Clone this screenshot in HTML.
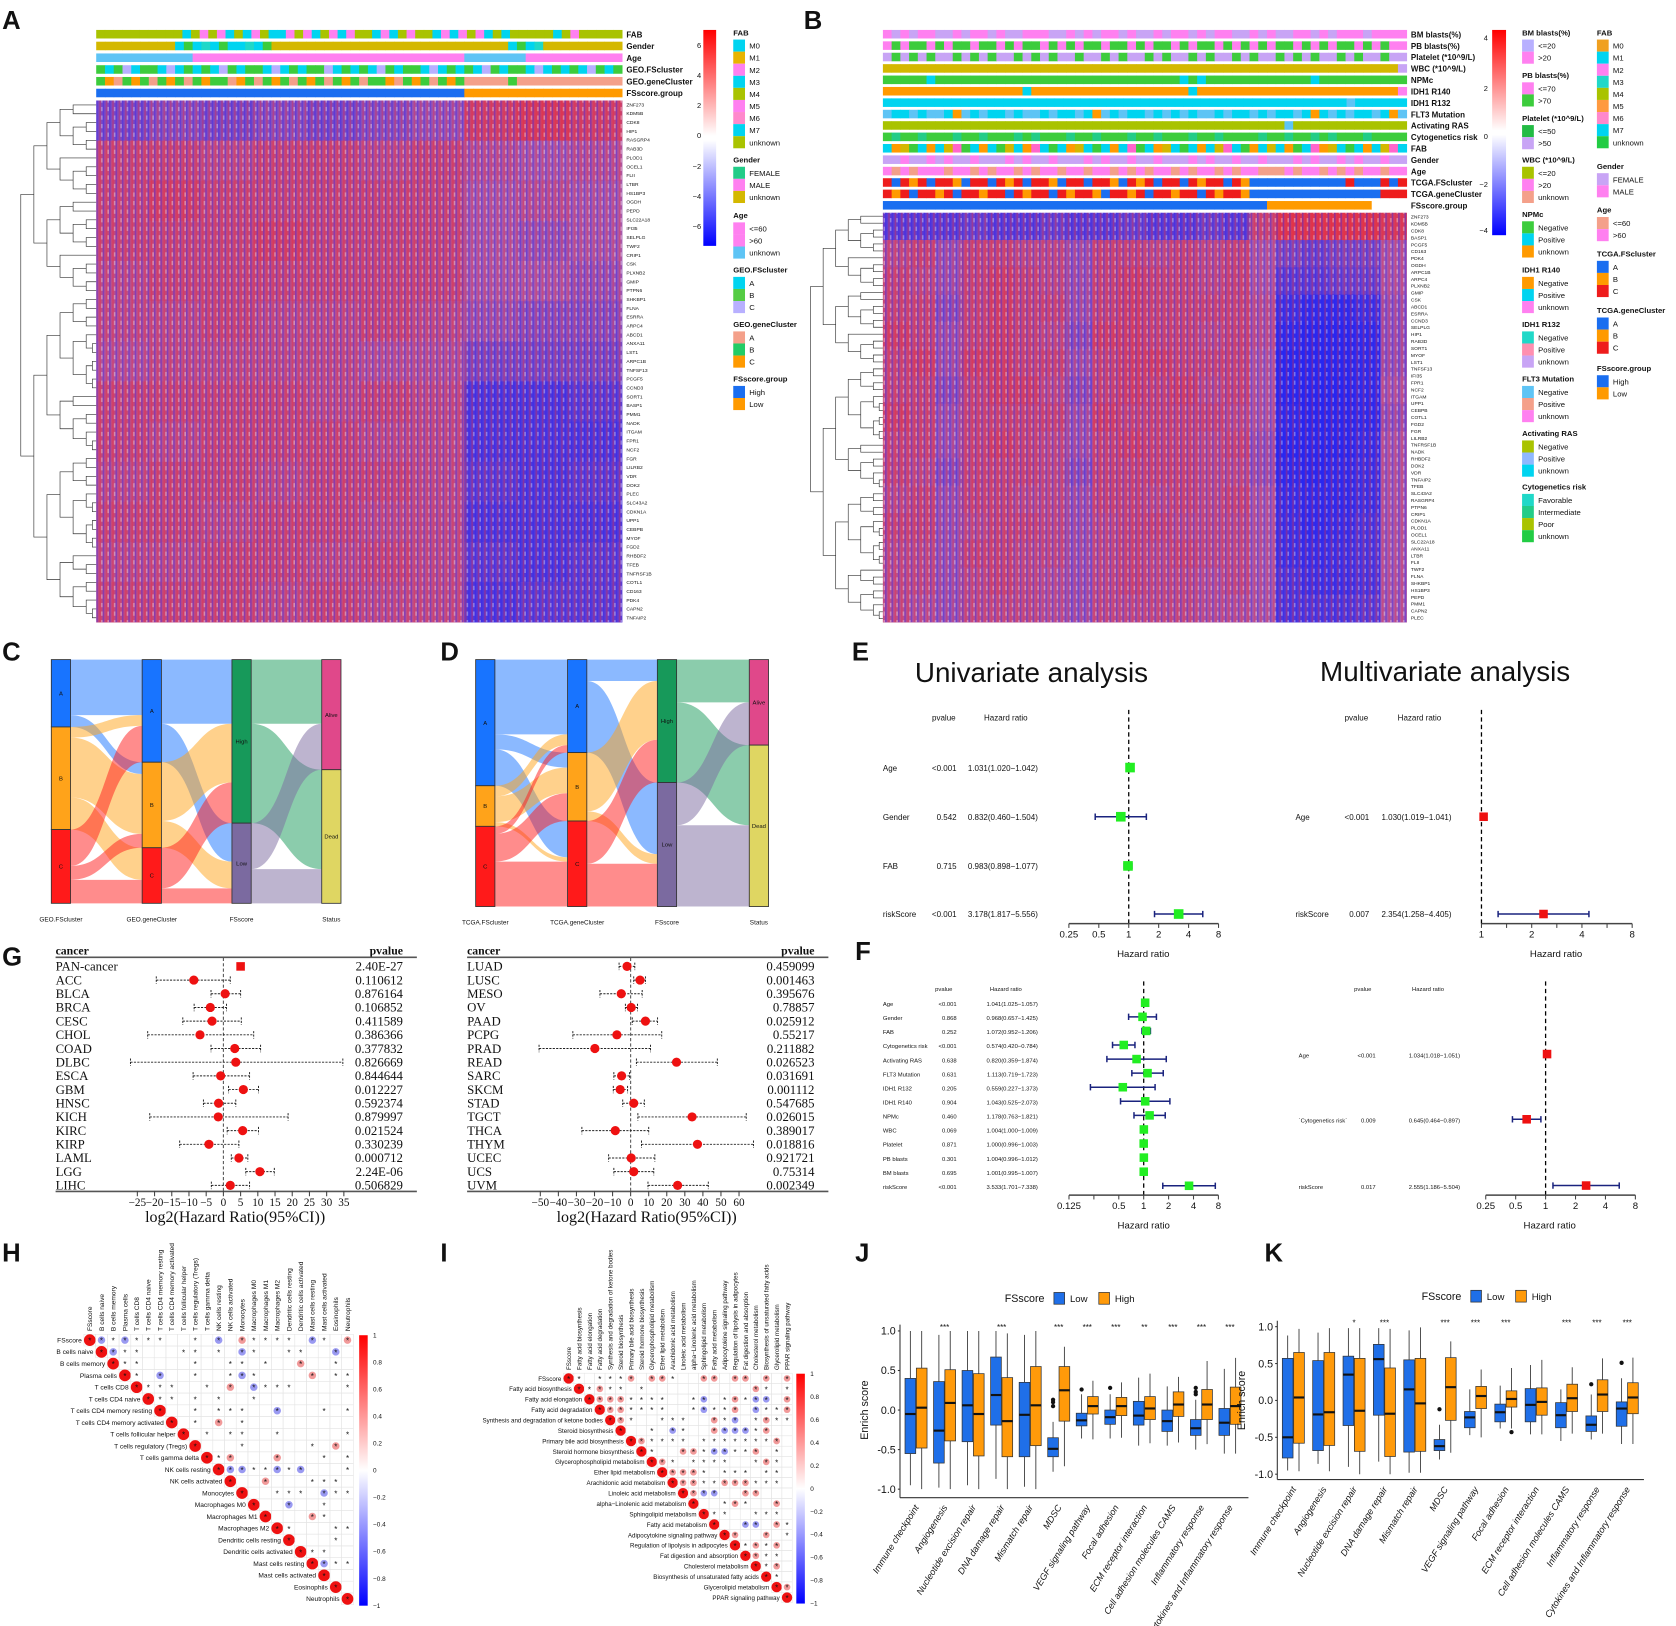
<!DOCTYPE html>
<html><head><meta charset="utf-8">
<style>
html,body{margin:0;padding:0;background:#fff;}
svg{display:block;}
text{font-family:"Liberation Sans",sans-serif;fill:#111;}
.serif{font-family:"Liberation Serif",serif;}
</style></head>
<body>
<svg id="fig" width="1676" height="1626" viewBox="0 0 1568 1521" preserveAspectRatio="none">
<defs>
<pattern id="texA" width="6" height="8" patternUnits="userSpaceOnUse">
<rect x="0" y="0" width="1.5" height="8" fill="#2020ff" fill-opacity="0.35"/>
<rect x="3" y="0" width="1.5" height="8" fill="#ff2020" fill-opacity="0.3"/>
<rect x="4.5" y="4" width="1.5" height="4" fill="#ffffff" fill-opacity="0.35"/>
</pattern>
</defs>
</svg>
<script>
// ================= DATA =================
const hmA = [
 [-0.3,-0.2,-0.3,-0.2,-0.3,-0.2,-0.1,0.4,0.5,0.4],
 [0.3,0.3,0.2,0.3,0.3,0.2,0.3,0.1,0.0,0.1],
 [0.3,0.4,0.3,0.3,0.3,0.3,0.3,0.0,0.1,0.0],
 [0.3,0.3,0.3,0.4,0.3,0.3,0.3,0.0,-0.1,0.0],
 [0.2,0.3,0.3,0.3,0.3,0.3,0.3,0.0,0.0,-0.1],
 [0.2,0.2,0.3,0.2,0.2,0.3,0.2,-0.1,-0.2,-0.2],
 [0.1,0.2,0.2,0.2,0.2,0.1,0.1,-0.3,-0.3,-0.3],
 [0.3,0.3,0.3,0.3,0.2,0.3,0.2,-0.6,-0.6,-0.5],
 [0.3,0.2,0.3,0.3,0.3,0.2,0.2,-0.6,-0.6,-0.6],
 [0.2,0.3,0.3,0.2,0.3,0.3,0.2,-0.5,-0.6,-0.5],
 [0.3,0.3,0.2,0.3,0.3,0.2,0.2,-0.6,-0.6,-0.6],
 [0.2,0.2,0.3,0.3,0.2,0.3,0.2,-0.5,-0.6,-0.5],
 [0.3,0.3,0.3,0.2,0.3,0.2,0.2,-0.6,-0.5,-0.5]
];
const hmB = [
 [-0.5,-0.5,-0.5,-0.4,-0.5,-0.5,-0.4,-0.5,-0.5,-0.4,-0.5,-0.5,-0.4,-0.5,0.3,0.6,0.6,0.6,0.6,0.5],
 [0.2,0.3,-0.1,0.3,0.3,0.2,0.2,-0.1,0.3,0.3,0.2,0.3,0.2,0.3,0.0,-0.3,-0.4,-0.3,-0.3,0.0],
 [0.3,0.2,-0.1,0.3,0.4,0.3,0.2,-0.1,0.3,0.4,0.3,0.3,0.2,0.3,0.0,-0.5,-0.5,-0.4,-0.4,0.0],
 [0.3,0.3,-0.2,0.3,0.4,0.3,0.3,-0.1,0.3,0.4,0.3,0.3,0.3,0.3,0.1,-0.7,-0.8,-0.8,-0.7,-0.1],
 [0.4,0.3,-0.1,0.3,0.4,0.3,0.2,-0.2,0.4,0.4,0.3,0.3,0.2,0.3,0.1,-0.8,-0.85,-0.85,-0.8,-0.1],
 [0.3,0.4,-0.1,0.4,0.4,0.3,0.3,-0.1,0.3,0.4,0.4,0.3,0.3,0.3,0.0,-0.85,-0.9,-0.85,-0.8,-0.1],
 [0.3,0.3,-0.2,0.3,0.4,0.4,0.2,-0.2,0.3,0.4,0.3,0.4,0.2,0.3,0.0,-0.85,-0.9,-0.9,-0.8,0.0],
 [0.4,0.3,-0.1,0.3,0.3,0.3,0.3,-0.1,0.4,0.3,0.3,0.3,0.3,0.2,0.0,-0.8,-0.9,-0.85,-0.8,-0.1],
 [0.3,0.3,-0.1,0.3,0.4,0.3,0.2,-0.1,0.3,0.4,0.3,0.3,0.2,0.3,-0.1,-0.85,-0.85,-0.85,-0.75,0.0],
 [0.3,0.2,-0.2,0.3,0.3,0.3,0.2,-0.2,0.3,0.3,0.3,0.3,0.2,0.2,-0.1,-0.8,-0.85,-0.8,-0.7,0.0],
 [0.2,0.3,-0.1,0.3,0.3,0.2,0.2,-0.1,0.3,0.3,0.2,0.3,0.2,0.3,0.0,-0.75,-0.8,-0.8,-0.7,0.0],
 [0.3,0.3,-0.1,0.2,0.3,0.3,0.2,-0.1,0.2,0.3,0.3,0.2,0.2,0.2,0.0,-0.7,-0.8,-0.75,-0.6,0.0],
 [0.2,0.2,-0.1,0.3,0.3,0.2,0.2,-0.1,0.2,0.3,0.2,0.3,0.2,0.2,0.0,-0.7,-0.75,-0.7,-0.6,0.0],
 [0.2,0.2,-0.1,0.2,0.3,0.2,0.1,-0.1,0.2,0.3,0.2,0.2,0.1,0.2,0.0,-0.6,-0.7,-0.7,-0.6,0.0],
 [0.2,0.1,-0.1,0.2,0.2,0.2,0.1,-0.1,0.2,0.2,0.2,0.2,0.1,0.1,0.0,-0.6,-0.6,-0.6,-0.5,0.0]
];
const genesA = ["ZNF273","KDM5B","CDK8","HIP1","RASGRP4","RAB3D","PLOD1","OCEL1","FLII","LTBR","HS1BP3","OGDH","PEPD","SLC22A18","IFI35","SELPLG","TWF2","CRIP1","CSK","PLXNB2","GMIP","PTPN6","SHKBP1","FLNA","ESRRA","ARPC4","ABCD1","ANXA11","LST1","ARPC1B","TNFSF13","PCGF5","CCND3","SORT1","BASP1","PMM1","NADK","ITGAM","FPR1","NCF2","FGR","LILRB2","VDR","DOK2","PLEC","SLC43A2","CDKN1A","UPP1","CEBPB","MYOF","FGD2","RHBDF2","TFEB","TNFRSF1B","COTL1","CD163","PDK4","CAPN2","TNFAIP2"];
const genesB = ["ZNF273","KDM5B","CDK8","BASP1","PCGF5","CD163","PDK4","OGDH","ARPC1B","ARPC4","PLXNB2","GMIP","CSK","ABCD1","ESRRA","CCND3","SELPLG","HIP1","RAB3D","SORT1","MYOF","LST1","TNFSF13","IFI35","FPR1","NCF2","ITGAM","UPP1","CEBPB","COTL1","FGD2","FGR","LILRB2","TNFRSF1B","NADK","RHBDF2","DOK2","VDR","TNFAIP2","TFEB","SLC43A2","RASGRP4","PTPN6","CRIP1","CDKN1A","PLOD1","OCEL1","SLC22A18","ANXA11","LTBR","FLII","TWF2","FLNA","SHKBP1","HS1BP3","PEPD","PMM1","CAPN2","PLEC"];
const pal = {o:"#a9c300",g:"#d4b800",c:"#00d4f0",l:"#5ec4f5",p:"#ff80f0",G:"#3ccc3c",n:"#22cc88",v:"#b8b0ff",s:"#f4a08a",O:"#ff9a00",B:"#1a6ef0",r:"#ee1c1c",m:"#ff66cc",k:"#c8a4f5",t:"#20d8c8",w:"#ffffff"};
const annANames = ["FAB","Gender","Age","GEO.FScluster","GEO.geneCluster","FSscore.group"];
const annARows = [
 "oooooooooocopopcocpoccpopcopcpoocpcopoocpcpopcocooooocopooooo",
 "gggggggggcGctcGcctcGgggggggggggggggggggggggggggcGctggggggggg",
 "lllllllllllppppppppppppppppppppppppppppppplllllllppppppppppp",
 "GcGvcGGcvcGcGcvGcGGcvcGcGGvcGcGcvGcGGcvcGcGcvGcGGcvcGcGcvGcG",
 "GOsGOGsGOGsGOGGsOGsGOGsGOGsGOGsGGOsGOGsGOGsssssGssssssssssss",
 "BBBBBBBBBBBBBBBBBBBBBBBBBBBBBBBBBBBBBBBBBBOOOOOOOOOOOOOOOOOO"
];
const annBNames = ["BM blasts(%)","PB blasts(%)","Platelet (*10^9/L)","WBC (*10^9/L)","NPMc","IDH1 R140","IDH1 R132","FLT3 Mutation","Activating RAS","Cytogenetics risk","FAB","Gender","Age","TCGA.FScluster","TCGA.geneCluster","FSscore.group"];
const annBRows = [
 "pkpkppkkpkppkpkkpppkkpkpkppkpkkpkppkpkppkkpkpkkppkpkpppkpppp",
 "pGpGGpGpGGpGGpGpGGpGpGpGGpGGpGpGGpGpGGpGpGpGpGGpGpGpGGpGpGpp",
 "kGkGkGkkGkGkGkkGkGkGkkGkkGkGkkGkGkkGkGkkGkGkkGkGkGkkGkGkkGkk",
 "gggggggggggggggggggggggggggggggggggggggggggggggggggggggggggk",
 "GGGGGcGGGGGGGGGGGGGGGGGGGGGGGGGGGGcGcGGGGGGGGGGGGcGGGGGGGGGG",
 "OOOOOOOOOOOOOOOOcOOOOOOOOOOOOOOOOOOcOOOOOOOOOOOOOOOOOOOOOOOp",
 "cccccccccccccccccccccccccccccccccccccccccccccccccccccclcccccc",
 "lcclcllcOlclcclcllclcclcOlclcclclclcllclcclclcclcOclclcclcOl",
 "oooooooooooooooooooooooooooooooooooooooooooooolooooooooooooo",
 "GnGGnGGGnGGnGGGnGnGGGnGGnGGGnGGnGGGnGGnGGGGnGGnGGnGnGGGnGGGG",
 "cOgGcOcgmGcOcGgcOmcGcOgcGcOcmGcOgcGcOcgmcGOcgcOGcmOgcGcOcgmc",
 "kkpkkpkpkkpkkkpkpkkpkkkpkpkkpkkpkkkpkpkkpkkpkkkpkpkkpkpkkpkk",
 "pspspppsppspsppspsppsppsppspspsppspsppspsppssspsppspspsppspp",
 "rBrOrBrrOBrrBrOrBrrOBrrBrrOBrOrBrrBrOrrBrOBBBBBBBBBBBrBBBrBr",
 "rOrBrrOrBrrOrrBrOrrBrOrrOBrrOrBrrOrrBrOrrOBBBBBBBBBBBBBBBrrr",
 "BBBBBBBBBBBBBBBBBBBBBBBBBBBBBBBBBBBBBBBBBBBBOOOOOOOOOOOOwwww"
];

const sankeyCNodes = [[["A",63],["B",96],["C",69]],[["A",96],["B",80],["C",52]],[["High",153],["Low",75]],[["Alive",103],["Dead",125]]];
const sankeyCFlows = [
 [[0,0,52],[0,1,11],[1,0,10],[1,1,56],[1,2,30],[2,0,34],[2,1,13],[2,2,22]],
 [[0,0,60],[0,1,36],[1,0,55],[1,1,25],[2,0,38],[2,1,14]],
 [[0,0,60],[0,1,93],[1,0,43],[1,1,32]]
];
const sankeyDNodes = [[["A",118],["B",38],["C",75]],[["A",87],["B",64],["C",80]],[["High",115],["Low",116]],[["Alive",80],["Dead",151]]];
const sankeyDFlows = [
 [[0,0,70],[0,1,14],[0,2,34],[1,0,10],[1,1,24],[1,2,4],[2,0,7],[2,1,26],[2,2,42]],
 [[0,0,20],[0,1,67],[1,0,55],[1,1,9],[2,0,40],[2,1,40]],
 [[0,0,40],[0,1,75],[1,0,40],[1,1,76]]
];

const eUniNames = ["Age","Gender","FAB","riskScore"];
const eUniP = ["<0.001","0.542","0.715","<0.001"];
const eUniHR = [1.031,0.832,0.983,3.178];
const eUniLo = [1.020,0.460,0.898,1.817];
const eUniHi = [1.042,1.504,1.077,5.556];
const eMulNames = ["Age","riskScore"];
const eMulP = ["<0.001","0.007"];
const eMulHR = [1.030,2.354];
const eMulLo = [1.019,1.258];
const eMulHi = [1.041,4.405];
const fUniNames = ["Age","Gender","FAB","Cytogenetics risk","Activating RAS","FLT3 Mutation","IDH1 R132","IDH1 R140","NPMc","WBC","Platelet","PB blasts","BM blasts","riskScore"];
const fUniP = ["<0.001","0.868","0.252","<0.001","0.638","0.631","0.205","0.904","0.460","0.069","0.871","0.301","0.695","<0.001"];
const fUniHR = [1.041,0.968,1.072,0.574,0.820,1.113,0.559,1.043,1.178,1.004,1.000,1.004,1.001,3.533];
const fUniLo = [1.025,0.657,0.952,0.420,0.359,0.719,0.227,0.525,0.763,1.000,0.996,0.996,0.995,1.701];
const fUniHi = [1.057,1.425,1.206,0.784,1.874,1.723,1.373,2.073,1.821,1.009,1.003,1.012,1.007,7.338];
const fMulNames = ["Age","`Cytogenetics risk`","riskScore"];
const fMulP = ["<0.001","0.009","0.017"];
const fMulHR = [1.034,0.645,2.555];
const fMulLo = [1.018,0.464,1.186];
const fMulHi = [1.051,0.897,5.504];

const gLeftNames = ["PAN-cancer","ACC","BLCA","BRCA","CESC","CHOL","COAD","DLBC","ESCA","GBM","HNSC","KICH","KIRC","KIRP","LAML","LGG","LIHC"];
const gLeftEst = [5.0,-8.6,0.5,-3.8,-3.3,-6.8,3.3,3.6,-0.8,5.8,-1.4,-1.5,5.6,-4.2,4.5,10.6,2.0];
const gLeftLo = [4.6,-19.5,-3.6,-8.5,-11.8,-22,-3.6,-27,-8.8,1.5,-5.8,-21.4,1.1,-12.7,2.3,6.5,-3.5];
const gLeftHi = [5.5,2.0,5.0,0.9,5.2,8.8,10.8,34.7,7.6,10.2,3.6,18.8,10.2,4.5,7.1,14.8,7.6];
const gLeftP = ["2.40E-27","0.110612","0.876164","0.106852","0.411589","0.386366","0.377832","0.826669","0.844644","0.012227","0.592374","0.879997","0.021524","0.330239","0.000712","2.24E-06","0.506829"];
const gLeftTicks = [-25,-20,-15,-10,-5,0,5,10,15,20,25,30,35];
const gRightNames = ["LUAD","LUSC","MESO","OV","PAAD","PCPG","PRAD","READ","SARC","SKCM","STAD","TGCT","THCA","THYM","UCEC","UCS","UVM"];
const gRightEst = [-2,5.2,-5.2,0.3,8.2,-7.6,-19.8,25.4,-5,-5.8,1.7,34,-8.5,37,0.3,1.7,26];
const gRightLo = [-6.4,1.7,-17,-2.9,0.9,-32,-50.7,3.2,-9.3,-9.6,-4.4,4,-27,6,-12.2,-9.3,9.6];
const gRightHi = [2.3,8.2,6.4,3.8,14.9,17.2,11,48,-0.6,-1.7,7.6,64,10,68,13.4,12.8,43];
const gRightP = ["0.459099","0.001463","0.395676","0.78857","0.025912","0.55217","0.211882","0.026523","0.031691","0.001112","0.547685","0.026015","0.389017","0.018816","0.921721","0.75314","0.002349"];
const gRightTicks = [-50,-40,-30,-20,-10,0,10,20,30,40,50,60];

const hNames = ["FSscore","B cells naive","B cells memory","Plasma cells","T cells CD8","T cells CD4 naive","T cells CD4 memory resting","T cells CD4 memory activated","T cells follicular helper","T cells regulatory (Tregs)","T cells gamma delta","NK cells resting","NK cells activated","Monocytes","Macrophages M0","Macrophages M1","Macrophages M2","Dendritic cells resting","Dendritic cells activated","Mast cells resting","Mast cells activated","Eosinophils","Neutrophils"];
const hCells = ["Db*b***..*.b.r****.b*.r","Db**...**.*.b*..**..b.","D**....*..**.*..r..*.*","D*.b..*..*b*....r.**b","D***..*.r.b***....*..","D**.*.*..*.......","D..*.***..b...*.**","D.*.r.*........","D.*.**..*.....*.","D...*.....*.r...","D*r...r...*.*..","Dbb**b*b...*r..","D..r...***...","D..***.b***.","D..b..*...r","D...r*....","D*...***.","D...*...","D**....","Db**","D..","D.","D"];
const iNames = ["FSscore","Fatty acid biosynthesis","Fatty acid elongation","Fatty acid degradation","Synthesis and degradation of ketone bodies","Steroid biosynthesis","Primary bile acid biosynthesis","Steroid hormone biosynthesis","Glycerophospholipid metabolism","Ether lipid metabolism","Arachidonic acid metabolism","Linoleic acid metabolism","alpha\u2212Linolenic acid metabolism","Sphingolipid metabolism","Fatty acid metabolism","Adipocytokine signaling pathway","Regulation of lipolysis in adipocytes","Fat digestion and absorption","Cholesterol metabolism","Biosynthesis of unsaturated fatty acids","Glycerolipid metabolism","PPAR signaling pathway"];
const iCells = ["D*.***r.rr*..rr.rr.r.rr","D*r**.*..........r*.*.*","Drrr****..*b.*r*bb.r**","Drr****..*b**r.b**r*","Dr*..***..r*b.*r**","D..*.b*..rbbb*r.","Dr****.*******r","D*..rr*bb**r.*.","Dr*.****..*r*","Drrr*.***.**","Drr**rrr***","Drbb..rr..","D..*r*..r","D**..***","D..bb.r*","Dr..r.*","D*r*r","Dr**","D*r","D*","Dr","D"];

const boxCats = ["Immune checkpoint","Angiogenesis","Nucleotide excision repair","DNA damage repair","Mismatch repair","MDSC","VEGF signaling pathway","Focal adhesion","ECM receptor interaction","Cell adhesion molecules CAMS","Inflammatory response","Cytokines and Inflammatory response"];
const jLow = [[-0.95,-0.55,-0.05,0.4,1.0],[-0.98,-0.67,-0.26,0.36,0.95],[-0.95,-0.4,0.06,0.5,1.0],[-0.87,-0.19,0.19,0.67,1.0],[-0.97,-0.59,-0.06,0.35,0.95],[-0.78,-0.59,-0.49,-0.35,-0.15],[-0.36,-0.2,-0.13,-0.04,0.2],[-0.36,-0.18,-0.09,0.0,0.2],[-0.45,-0.19,-0.07,0.11,0.41],[-0.45,-0.27,-0.14,0.0,0.3],[-0.5,-0.32,-0.23,-0.12,0.13],[-0.55,-0.32,-0.16,0.02,0.52]];
const jHigh = [[-1.0,-0.48,0.03,0.53,1.0],[-1.0,-0.39,0.09,0.51,1.0],[-1.0,-0.58,-0.05,0.46,1.0],[-1.0,-0.59,-0.14,0.41,0.97],[-1.0,-0.45,0.06,0.55,1.0],[-0.71,-0.14,0.25,0.55,0.8],[-0.37,-0.05,0.05,0.17,0.37],[-0.35,-0.07,0.05,0.16,0.35],[-0.42,-0.12,0.02,0.17,0.46],[-0.41,-0.08,0.07,0.23,0.42],[-0.43,-0.12,0.07,0.26,0.62],[-0.55,-0.18,0.05,0.29,0.66]];
const jLowOut = [[],[],[],[],[],[0.05,0.1,0.13],[0.26],[0.28],[],[],[0.2,0.23,0.28],[]];
const jSig = ["","***","","***","","***","***","***","**","***","***","***"];
const kLow = [[-0.95,-0.78,-0.5,0.57,0.88],[-0.86,-0.68,-0.19,0.54,0.92],[-0.9,-0.34,0.35,0.6,0.98],[-0.83,-0.2,0.56,0.76,0.98],[-0.98,-0.7,0.15,0.55,0.95],[-0.8,-0.68,-0.62,-0.53,-0.33],[-0.47,-0.37,-0.23,-0.15,0.15],[-0.38,-0.29,-0.16,-0.05,0.2],[-0.46,-0.29,-0.06,0.16,0.48],[-0.55,-0.37,-0.2,-0.03,0.15],[-0.53,-0.42,-0.33,-0.21,0.08],[-0.59,-0.35,-0.11,-0.02,0.3]];
const kHigh = [[-0.96,-0.58,0.04,0.65,0.97],[-0.96,-0.61,-0.16,0.65,0.98],[-1.0,-0.69,-0.14,0.57,0.98],[-1.0,-0.76,-0.18,0.44,0.97],[-0.98,-0.69,-0.04,0.57,0.99],[-0.71,-0.27,0.18,0.58,0.8],[-0.5,-0.11,0.06,0.19,0.42],[-0.38,-0.09,0.02,0.13,0.44],[-0.46,-0.2,-0.02,0.17,0.55],[-0.45,-0.15,0.03,0.22,0.45],[-0.45,-0.15,0.08,0.28,0.57],[-0.59,-0.18,0.04,0.24,0.58]];
const kLowOut = [[],[],[],[],[],[-0.12],[],[],[],[],[0.22],[0.51]];
const kHighOut = [[],[],[],[],[],[],[],[-0.43],[],[],[],[]];
const kSig = ["","","*","***","","***","***","***","","***","***","***"];
const boxTicks = [1.0,0.5,0.0,-0.5,-1.0];

// ================= HELPERS =================
const NS = "http://www.w3.org/2000/svg";
const svg = document.getElementById("fig");
function E(tag, a, p){ const e = document.createElementNS(NS, tag); for (const k in a) e.setAttribute(k, a[k]); (p||svg).appendChild(e); return e; }
function T(x, y, s, sz, a, p){ const e = E("text", Object.assign({x:x, y:y, "font-size":sz}, a||{}), p); e.textContent = s; return e; }
function G(name){ const g = E("g", {});   return g; }
function hcol(v){ const a=[170,90,170], r=[238,40,45], b=[40,40,238]; const t=Math.min(1,Math.abs(v)*1.15), c=v>=0?r:b; return "rgb("+a.map((x,i)=>Math.round(x+(c[i]-x)*t)).join(",")+")"; }

const letters = [["A",2,27],["B",752,27],["C",2,618],["D",412,618],["E",797,618],["F",800,898],["G",2,903],["H",2,1180],["I",412,1180],["J",800,1180],["K",1183,1180]];
letters.forEach(l => { const t = T(l[1], l[2], l[0], 24, {"font-weight":"bold"});   });

function dendro(g, xLeaf, xRoot, yTop, yBot, n){
  function rec(lo, hi, depth){
    if (hi - lo <= 1){ return {y:(yTop + (lo+0.5)*(yBot-yTop)/n), x:xLeaf}; }
    const mid = Math.floor((lo+hi)/2 + ((depth%3)-1)*(hi-lo)*0.12);
    const m = Math.max(lo+1, Math.min(hi-1, mid));
    const a = rec(lo, m, depth+1), b = rec(m, hi, depth+1);
    const x = xRoot + (xLeaf - xRoot) * Math.min(0.95, depth*0.17 + 0.02);
    E("path", {d:`M${a.x},${a.y}H${x}V${b.y}H${b.x}`, fill:"none", stroke:"#333", "stroke-width":0.6}, g);
    return {x:x, y:(a.y+b.y)/2};
  }
  rec(0, n, 0);
}
function annRows(g, x0, w, y0, dy, h, rows, names, labX){
  rows.forEach((row, i) => {
    const cw = w / row.length, y = y0 + i*dy;
    for (let j = 0; j < row.length; j++){
      const r = E("rect", {x:x0+j*cw, y:y, width:cw+0.4, height:h, fill:pal[row[j]]}, g);
      
      
    }
    const t = T(labX, y+h-1, names[i], 7.5, {"font-weight":"bold"}, g);
    
    
  });
}
function heat(g, x0, y0, w, h, data){
  const rh = h / data.length;
  data.forEach((row, i) => { const cw = w / row.length; row.forEach((v, j) => {
    const r = E("rect", {x:x0+j*cw, y:y0+i*rh, width:cw+0.3, height:rh+0.3, fill:hcol(v)}, g);
    
    
  }); });
  const tx = E("rect", {x:x0, y:y0, width:w, height:h, fill:"url(#texA)"}, g);
  
  
}
function geneLabels(g, x, y0, y1, list){
  const d = (y1 - y0) / (list.length - 1);
  list.forEach((s, i) => { const t = T(x, y0 + i*d + 1.5, s, 4.6, {}, g);   });
}
function legendBlock(g, x, y, title, items){
  const t = T(x, y, title, 7.2, {"font-weight":"bold"}, g);
  
  
  items.forEach((it, i) => {
    const yy = y + 4 + i*11.3;
    const r = E("rect", {x:x, y:yy, width:11, height:11.3, fill:it[1]}, g);
    
    
    const tt = T(x+15, yy+8.5, it[0], 7.2, {}, g);
    
    
  });
}
function colorbar(g, x, y, w, h, id, labels){
  const gr = E("linearGradient", {id:id, x1:0, y1:0, x2:0, y2:1}, g);
  [["0","#ff0000"],["0.49","#ffffff"],["0.51","#ffffff"],["1","#0000ff"]].forEach(s => E("stop", {offset:s[0], "stop-color":s[1]}, gr));
  const r = E("rect", {x:x, y:y, width:w, height:h, fill:`url(#${id})`}, g);
  
  
  labels.forEach(l => { const t = T(l[1], l[2], l[0], 7, {"text-anchor":"end"}, g);   });
}

// ================= PANEL A =================
{
  const g = G("panel-a-heatmap");
  annRows(g, 90, 492, 28, 11, 8, annARows, annANames, 586);
  heat(g, 90, 94, 492, 488, hmA);
  dendro(g, 90, 18, 94, 582, 59);
  geneLabels(g, 586, 98, 578, genesA);
  colorbar(g, 658, 28, 12, 202, "cbA", [["6",656,45],["4",656,73],["2",656,101],["0",656,129],["\u22122",656,158],["\u22124",656,186],["\u22126",656,214]]);
  legendBlock(g, 686, 33, "FAB", [["M0",pal.c],["M1","#e8b400"],["M2",pal.p],["M3",pal.c],["M4",pal.o],["M5",pal.p],["M6","#ff88cc"],["M7",pal.c],["unknown",pal.o]]);
  legendBlock(g, 686, 152, "Gender", [["FEMALE",pal.n],["MALE",pal.p],["unknown",pal.g]]);
  legendBlock(g, 686, 204, "Age", [["<=60",pal.p],[">60",pal.p],["unknown",pal.l]]);
  legendBlock(g, 686, 255, "GEO.FScluster", [["A",pal.c],["B","#55cc44"],["C",pal.v]]);
  legendBlock(g, 686, 306, "GEO.geneCluster", [["A",pal.s],["B","#22cc66"],["C",pal.O]]);
  legendBlock(g, 686, 357, "FSscore.group", [["High",pal.B],["Low",pal.O]]);
}
// ================= PANEL B =================
{
  const g = G("panel-b-heatmap");
  annRows(g, 826, 490, 28, 10.67, 8, annBRows, annBNames, 1320);
  heat(g, 826, 199, 490, 383, hmB);
  dendro(g, 826, 757, 199, 582, 59);
  geneLabels(g, 1320, 203, 578, genesB);
  colorbar(g, 1396, 28, 13, 192, "cbB", [["4",1392,38],["2",1392,85],["0",1392,130],["\u22122",1392,175],["\u22124",1392,218]]);
  const L = 1424;
  legendBlock(g, L, 33, "BM blasts(%)", [["<=20",pal.v],[">20",pal.p]]);
  legendBlock(g, L, 73, "PB blasts(%)", [["<=70",pal.p],[">70",pal.G]]);
  legendBlock(g, L, 113, "Platelet (*10^9/L)", [["<=50","#22bb44"],[">50",pal.k]]);
  legendBlock(g, L, 152, "WBC (*10^9/L)", [["<=20",pal.o],[">20",pal.p],["unknown",pal.s]]);
  legendBlock(g, L, 203, "NPMc", [["Negative",pal.G],["Positive",pal.c],["unknown",pal.O]]);
  legendBlock(g, L, 255, "IDH1 R140", [["Negative",pal.O],["Positive",pal.c],["unknown",pal.p]]);
  legendBlock(g, L, 306, "IDH1 R132", [["Negative",pal.t],["Positive","#ff8fb0"],["unknown",pal.k]]);
  legendBlock(g, L, 357, "FLT3 Mutation", [["Negative",pal.l],["Positive",pal.s],["unknown",pal.p]]);
  legendBlock(g, L, 408, "Activating RAS", [["Negative",pal.o],["Positive","#8fb8ff"],["unknown",pal.c]]);
  legendBlock(g, L, 458, "Cytogenetics risk", [["Favorable",pal.t],["Intermediate",pal.n],["Poor",pal.o],["unknown","#22cc44"]]);
  const L2 = 1494;
  legendBlock(g, L2, 33, "FAB", [["M0","#f0a020"],["M1",pal.c],["M2",pal.p],["M3",pal.t],["M4",pal.o],["M5","#ff9a40"],["M6","#ff88cc"],["M7",pal.c],["unknown","#22cc44"]]);
  legendBlock(g, L2, 158, "Gender", [["FEMALE",pal.k],["MALE",pal.p]]);
  legendBlock(g, L2, 199, "Age", [["<=60",pal.s],[">60",pal.p]]);
  legendBlock(g, L2, 240, "TCGA.FScluster", [["A",pal.B],["B",pal.O],["C",pal.r]]);
  legendBlock(g, L2, 293, "TCGA.geneCluster", [["A",pal.B],["B",pal.O],["C",pal.r]]);
  legendBlock(g, L2, 347, "FSscore.group", [["High",pal.B],["Low",pal.O]]);
}

// ================= SANKEY C/D =================
const nodeColors = {A:"#1874ff",B:"#ffa31a",C:"#ff1a1a",High:"#17995a",Low:"#7b6aa0",Alive:"#e0488a",Dead:"#dfd662"};
function sankey(name, xs, nw, y0, H, nodes, flows, axisNames, labY){
  const g = G(name);
  const total = nodes[0].reduce((s,n)=>s+n[1],0), k = H/total;
  const pos = nodes.map(col => { let y = y0; return col.map(n => { const p = {y:y, h:n[1]*k}; y += p.h; return p; }); });
  flows.forEach((fl, ci) => {
    const so = pos[ci].map(p=>p.y), to = pos[ci+1].map(p=>p.y);
    const objs = fl.map(f => ({s:f[0], t:f[1], v:f[2]}));
    [...objs].sort((a,b)=>a.s-b.s||a.t-b.t).forEach(f => { f.sy = so[f.s]; so[f.s] += f.v*k; });
    [...objs].sort((a,b)=>a.t-b.t||a.s-b.s).forEach(f => { f.ty = to[f.t]; to[f.t] += f.v*k; });
    objs.forEach(f => {
      const x1 = xs[ci]+nw, x2 = xs[ci+1], h = f.v*k, mx = (x1+x2)/2;
      const p = E("path", {d:`M${x1},${f.sy}C${mx},${f.sy} ${mx},${f.ty} ${x2},${f.ty}L${x2},${f.ty+h}C${mx},${f.ty+h} ${mx},${f.sy+h} ${x1},${f.sy+h}Z`, fill:nodeColors[nodes[ci][f.s][0]], "fill-opacity":0.5}, g);
      
      
    });
  });
  nodes.forEach((col, ci) => col.forEach((n, ni) => {
    const p = pos[ci][ni];
    const r = E("rect", {x:xs[ci], y:p.y, width:nw, height:p.h, fill:nodeColors[n[0]], stroke:"#333", "stroke-width":0.8}, g);
    
    
    const t = T(xs[ci]+nw/2, p.y+p.h/2+2, n[0], 5.5, {"text-anchor":"middle"}, g);
    
    
  }));
  axisNames.forEach((s, i) => { const t = T(xs[i]+nw/2, labY, s, 6, {"text-anchor":"middle", fill:"#444"}, g);   });
}
sankey("panel-c-sankey", [48,133,217,301], 18, 617, 228, sankeyCNodes, sankeyCFlows, ["GEO.FScluster","GEO.geneCluster","FSscore","Status"], 862);
sankey("panel-d-sankey", [445,531,615,701], 18, 617, 231, sankeyDNodes, sankeyDFlows, ["TCGA.FScluster","TCGA.geneCluster","FSscore","Status"], 865);

// ================= FOREST E/F =================
function forest(o){
  const g = G(o.name);
  const X = v => o.x1 + Math.log2(v) * o.ppu;
  const h1 = T(o.pvX-12, o.hdrY, "pvalue", o.fs, {"text-anchor":"middle"}, g);
  
  
  const h2 = T(o.hrX-30, o.hdrY, "Hazard ratio", o.fs, {"text-anchor":"middle"}, g);
  
  
  const dl = E("line", {x1:X(1), x2:X(1), y1:o.dashTop, y2:o.axisY, stroke:"#000", "stroke-width":1.2, "stroke-dasharray":"4,3"}, g);
  
  
  o.names.forEach((n, i) => {
    const y = o.rows[i];
    const a = T(o.nameX, y+3, n, o.fs, {}, g);  
    const b = T(o.pvX, y+3, o.p[i], o.fs, {"text-anchor":"end"}, g);  
    const c = T(o.hrX, y+3, o.hr[i].toFixed(3)+"("+o.lo[i].toFixed(3)+"\u2212"+o.hi[i].toFixed(3)+")", o.fs, {"text-anchor":"end"}, g);  
    const w = E("path", {d:`M${X(o.lo[i])},${y-3}V${y+3}M${X(o.lo[i])},${y}H${X(o.hi[i])}M${X(o.hi[i])},${y-3}V${y+3}`, stroke:"#1a237e", "stroke-width":1.4, fill:"none"}, g);
    
    
    const s = o.sq;
    const m = E("rect", {x:X(o.hr[i])-s/2, y:y-s/2, width:s, height:s, fill:o.color}, g);
    
    
  });
  const ax = E("line", {x1:X(o.ticks[0]), x2:X(o.ticks[o.ticks.length-1]), y1:o.axisY, y2:o.axisY, stroke:"#444", "stroke-width":1.4}, g);
  
  
  o.ticks.forEach((t, i) => {
    const tl = E("line", {x1:X(t), x2:X(t), y1:o.axisY, y2:o.axisY+4, stroke:"#444"}, g);
    
    
    if (o.tickLabels[i] !== ""){ const tt = T(X(t), o.axisY+13, o.tickLabels[i], 9, {"text-anchor":"middle"}, g);   }
  });
  const xl = T(o.x1 + Math.log2(o.xlabAt)*o.ppu, o.axisY+31, "Hazard ratio", 9, {"text-anchor":"middle"}, g);
  
  
}
{
  const t1 = T(965, 638, "Univariate analysis", 26, {"text-anchor":"middle"});  
  const t2 = T(1352, 637, "Multivariate analysis", 26, {"text-anchor":"middle"});  
}
forest({name:"panel-e-univariate-forest", names:eUniNames, p:eUniP, hr:eUniHR, lo:eUniLo, hi:eUniHi, rows:[718,764,810,855], nameX:826, pvX:895, hrX:971, hdrY:674, fs:7.5, x1:1056, ppu:28, dashTop:664, axisY:864, ticks:[0.25,0.5,1,2,4,8], tickLabels:["0.25","0.5","1","2","4","8"], xlabAt:1.4, color:"#22ee22", sq:9});
forest({name:"panel-e-multivariate-forest", names:eMulNames, p:eMulP, hr:eMulHR, lo:eMulLo, hi:eMulHi, rows:[764,855], nameX:1212, pvX:1281, hrX:1358, hdrY:674, fs:7.5, x1:1386, ppu:47, dashTop:664, axisY:864, ticks:[1,1.414,2,2.828,4,5.657,8], tickLabels:["1","","2","","4","","8"], xlabAt:2.8, color:"#ee1111", sq:8});
forest({name:"panel-f-univariate-forest", names:fUniNames, p:fUniP, hr:fUniHR, lo:fUniLo, hi:fUniHi, rows:fUniNames.map((_,i)=>938+i*13.17), nameX:826, pvX:895, hrX:971, hdrY:927, fs:5.5, x1:1070, ppu:23.3, dashTop:918, axisY:1118, ticks:[0.125,0.25,0.5,1,2,4,8], tickLabels:["0.125","","0.5","1","2","4","8"], xlabAt:1, color:"#22ee22", sq:8});
forest({name:"panel-f-multivariate-forest", names:fMulNames, p:fMulP, hr:fMulHR, lo:fMulLo, hi:fMulHi, rows:[986,1047,1109], nameX:1215, pvX:1287, hrX:1366, hdrY:927, fs:5.5, x1:1446, ppu:28, dashTop:918, axisY:1118, ticks:[0.25,0.5,1,2,4,8], tickLabels:["0.25","0.5","1","2","4","8"], xlabAt:1.1, color:"#ee1111", sq:8});

// ================= FOREST G =================
function gForest(o){
  const g = G(o.name);
  const X = v => o.zero + v*o.ppu;
  const c1 = T(o.nameX, 893, "cancer", 11, {"font-weight":"bold", class:"serif"}, g);  
  const c2 = T(o.pX, 893, "pvalue", 11, {"font-weight":"bold", class:"serif", "text-anchor":"end"}, g);  
  const hl = E("line", {x1:o.nameX, x2:o.lineEnd, y1:895.5, y2:895.5, stroke:"#555", "stroke-width":1.5}, g);  
  const bl = E("line", {x1:o.nameX, x2:o.lineEnd, y1:1114.5, y2:1114.5, stroke:"#555", "stroke-width":1.5}, g);  
  const zl = E("line", {x1:X(0), x2:X(0), y1:896, y2:1114, stroke:"#555", "stroke-dasharray":"3,2"}, g);  
  o.names.forEach((n, i) => {
    const y = 904 + i*12.8;
    const a = T(o.nameX, y+4, n, 12, {class:"serif"}, g);  
    const b = T(o.pX, y+4, o.p[i], 12, {class:"serif", "text-anchor":"end"}, g);  
    const w = E("path", {d:`M${X(o.lo[i])},${y-3.5}V${y+3.5}M${X(o.lo[i])},${y}H${X(o.hi[i])}M${X(o.hi[i])},${y-3.5}V${y+3.5}`, stroke:"#222", "stroke-width":0.9, "stroke-dasharray":"2,1.2", fill:"none"}, g);
    
    
    if (i === 0 && o.squareFirst){
      const m = E("rect", {x:X(o.est[i])-4, y:y-4, width:8, height:8, fill:"#ee1111"}, g);
      
      
    } else {
      const m = E("circle", {cx:X(o.est[i]), cy:y, r:4.3, fill:"#ee1111"}, g);
      
      
    }
  });
  o.ticks.forEach(t => {
    const tl = E("line", {x1:X(t), x2:X(t), y1:1114, y2:1119, stroke:"#444"}, g);  
    const tt = T(X(t), 1128, (t<0?"\u2212":"")+Math.abs(t), 10.5, {"text-anchor":"middle", class:"serif"}, g);  
  });
  const xl = T(o.xlabX, 1143, "log2(Hazard Ratio(95%CI))", 15, {"text-anchor":"middle", class:"serif"}, g);
  
  
}
gForest({name:"panel-g-forest-left", names:gLeftNames, est:gLeftEst, lo:gLeftLo, hi:gLeftHi, p:gLeftP, ticks:gLeftTicks, zero:209, ppu:3.22, nameX:52, pX:377, lineEnd:390, squareFirst:true, xlabX:220});
gForest({name:"panel-g-forest-right", names:gRightNames, est:gRightEst, lo:gRightLo, hi:gRightHi, p:gRightP, ticks:gRightTicks, zero:590, ppu:1.69, nameX:437, pX:762, lineEnd:775, squareFirst:false, xlabX:605});

// ================= CORRPLOT H/I =================
function corrplot(o){
  const g = G(o.name);
  const n = o.names.length;
  const cx = j => o.x0 + j*o.dx, cy = i => o.y0 + i*o.dy;
  o.cells.forEach((row, i) => {
    for (let k = 0; k < n - i; k++){
      const j = i + k, ch = row[k] || ".";
      const cell = E("rect", {x:cx(j)-o.dx/2, y:cy(i)-o.dy/2, width:o.dx, height:o.dy, fill:"none", stroke:"#e4e4e4", "stroke-width":0.5}, g);
      
      
      if (ch === "D" || ch === "r" || ch === "b"){
        const c = E("circle", {cx:cx(j), cy:cy(i), r:ch==="D"?o.dx*0.5:o.dx*0.32, fill:ch==="D"?"#ee1111":(ch==="r"?"#f29a9a":"#9a9af2")}, g);
        
        
      }
      if (ch !== "."){
        const s = T(cx(j), cy(i)+3.3, "*", 7.5, {"text-anchor":"middle"}, g);
        
        
      }
    }
    const rl = T(cx(i)-o.dx/2-2, cy(i)+2.2, o.names[i], o.fs, {"text-anchor":"end"}, g);
    
    
    const x = cx(i)+2.2, y = o.y0 - o.dy/2 - 3;
    const cl = T(x, y, o.names[i], o.fs, {transform:`rotate(-90 ${x} ${y})`}, g);
    
    
  });
  const gr = E("linearGradient", {id:o.name+"-grad", x1:0, y1:0, x2:0, y2:1}, g);
  [["0","#ff0000"],["0.5","#ffffff"],["1","#0000ff"]].forEach(s => E("stop", {offset:s[0], "stop-color":s[1]}, gr));
  const cb = E("rect", {x:o.cbX, y:o.cbY, width:8, height:o.cbH, fill:`url(#${o.name}-grad)`}, g);
  
  
  [1,0.8,0.6,0.4,0.2,0,-0.2,-0.4,-0.6,-0.8,-1].forEach(v => {
    const y = o.cbY + (1-v)/2*o.cbH;
    const t = T(o.cbX+13, y+2, v===0?"0":(v<0?"\u2212":"")+Math.abs(v), 6, {}, g);
    
    
  });
}
corrplot({name:"panel-h-corrplot", names:hNames, cells:hCells, x0:84, dx:10.96, y0:1253.6, dy:11.0, fs:6.2, cbX:336, cbY:1249, cbH:253});
corrplot({name:"panel-i-corrplot", names:iNames, cells:iCells, x0:532, dx:9.73, y0:1289.4, dy:9.76, fs:5.8, cbX:745, cbY:1285, cbH:215});

// ================= BOXPLOTS J/K =================
function boxplot(o){
  const g = G(o.name);
  const Y = v => o.yZero - v*o.ppu;
  const ya = E("line", {x1:o.axX, x2:o.axX, y1:Y(1.08), y2:o.axY, stroke:"#333", "stroke-width":1}, g);  
  const xa = E("line", {x1:o.axX, x2:o.axEnd, y1:o.axY, y2:o.axY, stroke:"#333", "stroke-width":1}, g);  
  boxTicks.forEach(t => {
    const tt = T(o.axX-4, Y(t)+3.5, (t<0?"-":"")+Math.abs(t).toFixed(1), 10, {"text-anchor":"end", fill:"#333"}, g);
    
    
    const tl = E("line", {x1:o.axX-2, x2:o.axX, y1:Y(t), y2:Y(t), stroke:"#333"}, g);
    
    
  });
  const tx = o.axX-30;
  const yt = T(tx, o.yZero, "Enrich score", 10, {"text-anchor":"middle", transform:`rotate(-90 ${tx} ${o.yZero})`}, g);
  
  
  function drawBox(cx, d, col, outs){
    const w = E("path", {d:`M${cx},${Y(d[0])}V${Y(d[1])}M${cx},${Y(d[3])}V${Y(d[4])}`, stroke:"#333", "stroke-width":0.8}, g);
    
    
    const b = E("rect", {x:cx-5, y:Y(d[3]), width:10, height:Y(d[1])-Y(d[3]), fill:col, stroke:"#333", "stroke-width":0.7}, g);
    
    
    const m = E("line", {x1:cx-5, x2:cx+5, y1:Y(d[2]), y2:Y(d[2]), stroke:"#111", "stroke-width":2}, g);
    
    
    (outs||[]).forEach(v => { const c = E("circle", {cx:cx, cy:Y(v), r:2, fill:"#111"}, g);   });
  }
  boxCats.forEach((c, i) => {
    const cx = o.x0 + i*o.dx;
    drawBox(cx-5.3, o.low[i], "#1f6fe8", o.lowOut[i]);
    drawBox(cx+5.3, o.high[i], "#ff9a0a", o.highOut[i]);
    if (o.sig[i]){ const s = T(cx, o.sigY, o.sig[i], 7.5, {"text-anchor":"middle"}, g);   }
    const lx = cx+3, ly = o.axY+9;
    const l = T(lx, ly, c, 8.5, {"text-anchor":"end", "font-style":"italic", fill:"#333", transform:`rotate(-58 ${lx} ${ly})`}, g);
    
    
  });
  const lt = T(o.legX, o.legY+4, "FSscore", 10, {}, g);  
  [["Low","#1f6fe8",o.legX+46],["High","#ff9a0a",o.legX+88]].forEach(it => {
    const r = E("rect", {x:it[2], y:o.legY-5, width:10, height:11, fill:it[1], stroke:"#333", "stroke-width":0.7}, g);
    
    
    const t = T(it[2]+15, o.legY+4, it[0], 9, {}, g);
    
    
  });
}
boxplot({name:"panel-j-boxplot", low:jLow, high:jHigh, lowOut:jLowOut, highOut:jLowOut.map(()=>[]), sig:jSig, yZero:1319, ppu:74, axX:842, axY:1401, axEnd:1168, x0:857, dx:26.7, sigY:1244, legX:940, legY:1214});
boxplot({name:"panel-k-boxplot", low:kLow, high:kHigh, lowOut:kLowOut, highOut:kHighOut, sig:kSig, yZero:1310, ppu:69, axX:1195, axY:1384, axEnd:1538, x0:1210, dx:28.4, sigY:1240, legX:1330, legY:1212});
</script>
</body></html>
